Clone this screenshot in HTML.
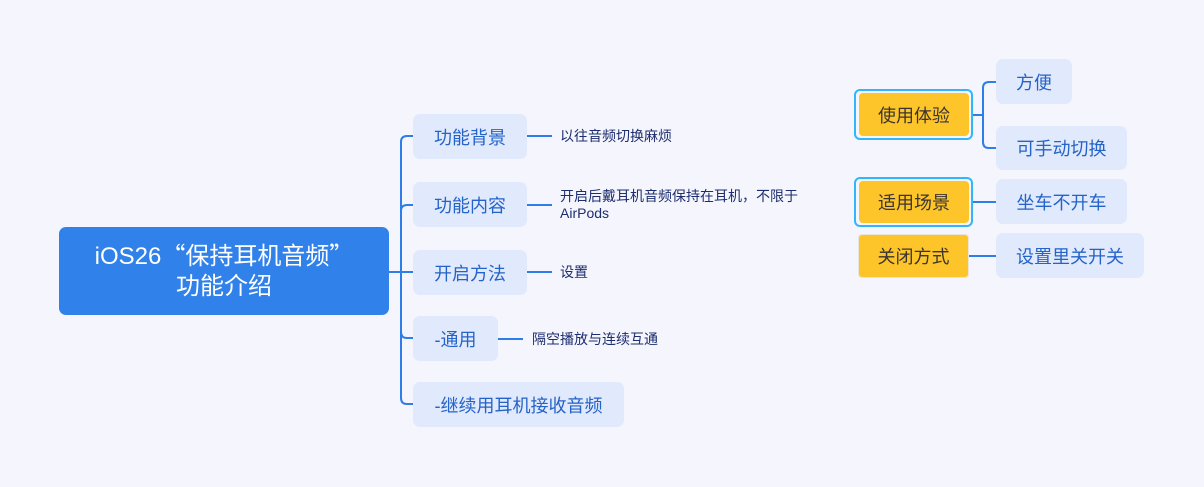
<!DOCTYPE html>
<html><head><meta charset="utf-8"><style>
*{margin:0;padding:0;box-sizing:border-box}
body{width:1204px;height:487px;background:#f4f5fd;position:relative;overflow:hidden;font-family:"Liberation Sans","Noto Sans CJK SC",sans-serif}
.a{position:absolute}
.n1{position:absolute;background:#e1e9fc;border-radius:7px;color:#2463c8;font-size:18px;display:flex;align-items:center;justify-content:center;white-space:nowrap}
.t2{position:absolute;color:#1d2d6e;font-size:14px;white-space:nowrap;line-height:17px}
.y{position:absolute;background:#fec52b;border-radius:4px;color:#3a3530;font-size:18px;display:flex;align-items:center;justify-content:center;white-space:nowrap}
.sel{position:absolute;border:2px solid #33b5fa;border-radius:6px}
.q{display:inline-block;width:24px;font-family:"Noto Sans CJK SC",sans-serif}
</style></head><body>
<svg class="a" style="left:0;top:0" width="1204" height="487">
<g fill="none" stroke="#2f7de8" stroke-width="2">
<path d="M413 136 H407 Q401 136 401 142 V398 Q401 404 407 404 H413"/>
<path d="M401 211 Q401 205 407 205 H413"/>
<path d="M389 272 H413"/>
<path d="M401 332 Q401 338 407 338 H413"/>
<path d="M527 136 H552"/>
<path d="M527 205 H552"/>
<path d="M527 272 H552"/>
<path d="M498 339 H523"/>
<path d="M973 115 H983"/>
<path d="M996 82 H989 Q983 82 983 88 V142 Q983 148 989 148 H996"/>
<path d="M973 202 H996"/>
<path d="M969 256 H996"/>
</g>
</svg>
<div class="a" style="left:59px;top:227px;width:330px;height:88px;background:#3181ea;border-radius:7px;color:#fff;font-size:24px;text-align:center">
<div style="position:absolute;left:0;right:0;top:10px;line-height:33px;white-space:nowrap">iOS26<span class="q" style="text-align:right">“</span>保持耳机音频<span class="q" style="text-align:left">”</span></div>
<div style="position:absolute;left:0;right:0;top:43px;line-height:33px">功能介绍</div>
</div>
<div class="n1" style="left:413px;top:114px;width:114px;height:45px">功能背景</div>
<div class="n1" style="left:413px;top:182px;width:114px;height:45px">功能内容</div>
<div class="n1" style="left:413px;top:250px;width:114px;height:45px">开启方法</div>
<div class="n1" style="left:413px;top:316px;width:85px;height:45px">-通用</div>
<div class="n1" style="left:413px;top:382px;width:211px;height:45px">-继续用耳机接收音频</div>
<div class="t2" style="left:560px;top:128px">以往音频切换麻烦</div>
<div class="t2" style="left:560px;top:188px">开启后戴耳机音频保持在耳机，不限于<br>AirPods</div>
<div class="t2" style="left:560px;top:264px">设置</div>
<div class="t2" style="left:532px;top:331px">隔空播放与连续互通</div>
<div class="sel" style="left:854px;top:89px;width:119px;height:51px"></div>
<div class="y" style="left:859px;top:93px;width:110px;height:43px">使用体验</div>
<div class="sel" style="left:854px;top:177px;width:119px;height:50px"></div>
<div class="y" style="left:859px;top:181px;width:110px;height:42px">适用场景</div>
<div class="y" style="left:858px;top:234px;width:111px;height:44px;border:1px solid #ece4d4">关闭方式</div>
<div class="n1" style="left:996px;top:59px;width:76px;height:45px">方便</div>
<div class="n1" style="left:996px;top:126px;width:131px;height:44px">可手动切换</div>
<div class="n1" style="left:996px;top:179px;width:131px;height:45px">坐车不开车</div>
<div class="n1" style="left:996px;top:233px;width:148px;height:45px">设置里关开关</div>
</body></html>
